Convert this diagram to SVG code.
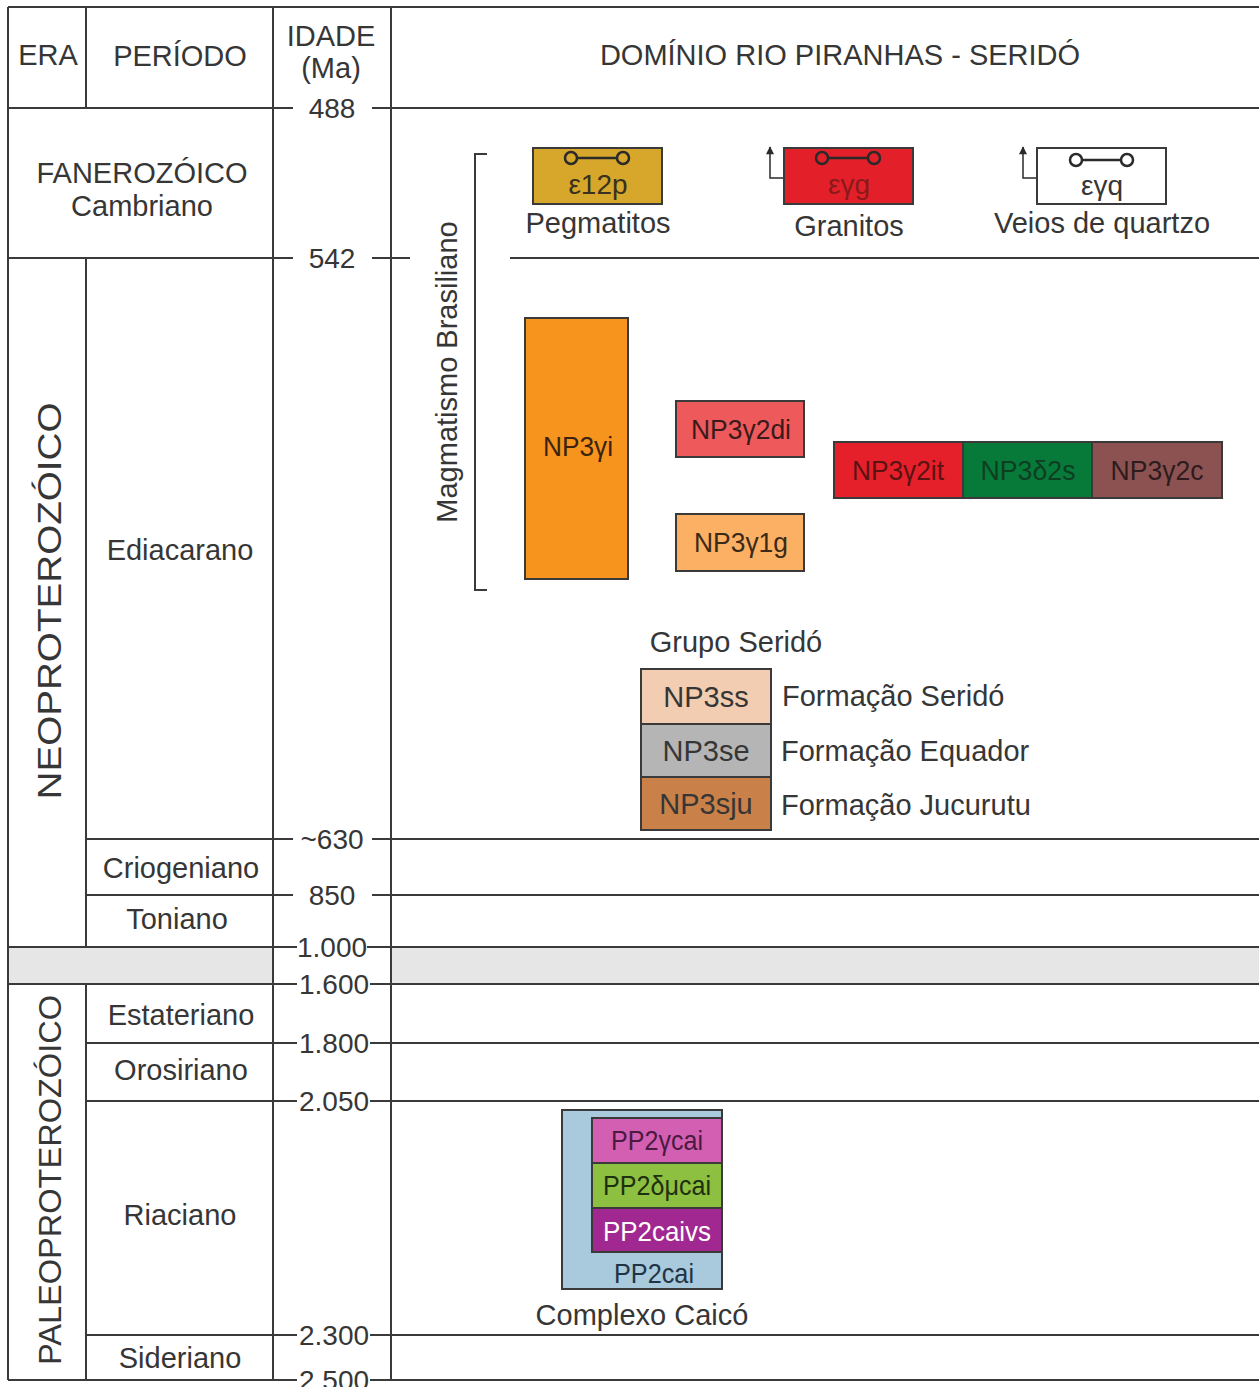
<svg xmlns="http://www.w3.org/2000/svg" width="1259" height="1387" viewBox="0 0 1259 1387">
  <style>
    text { font-family: "Liberation Sans", Arial, sans-serif; fill: #363636; }
    .lbl { font-size: 29px; }
    .age { font-size: 28px; text-anchor: middle; }
    .mid { text-anchor: middle; }
    .grid { stroke: #3a3a3a; stroke-width: 2; fill: none; }
    .box { stroke: #3a3a3a; stroke-width: 2; }
    .unit { font-size: 28px; text-anchor: middle; }
    .gk { font-family: "Liberation Serif", "Times New Roman", serif; }
    .sym { stroke: #2a2a2a; stroke-width: 2.5; }
  </style>
  <defs>
    <marker id="tip" viewBox="0 0 10 10" refX="9" refY="5" markerWidth="9" markerHeight="8" orient="auto" markerUnits="userSpaceOnUse">
      <path d="M0,0 L10,5 L0,10 Z" fill="#2a2a2a"/>
    </marker>
  </defs>

  <rect width="1259" height="1387" fill="#ffffff"/>

  <!-- gap between Neo- and Paleoproterozoic -->
  <g id="hiatus">
    <rect x="8" y="947" width="265" height="37" fill="#e6e6e6"/>
    <rect x="391" y="947" width="868" height="37" fill="#e6e6e6"/>
  </g>

  <!-- table frame and time boundaries -->
  <g id="grid" class="grid">
    <line x1="8" y1="7" x2="1259" y2="7"/>
    <line x1="8" y1="7" x2="8" y2="1380"/>
    <line x1="86" y1="7" x2="86" y2="108"/>
    <line x1="86" y1="258" x2="86" y2="947"/>
    <line x1="86" y1="984" x2="86" y2="1380"/>
    <line x1="273" y1="7" x2="273" y2="1380"/>
    <line x1="391" y1="7" x2="391" y2="1380"/>

    <!-- 488 -->
    <line x1="8" y1="108" x2="293" y2="108"/>
    <line x1="372" y1="108" x2="1259" y2="108"/>
    <!-- 542 -->
    <line x1="8" y1="258" x2="293" y2="258"/>
    <line x1="372" y1="258" x2="410" y2="258"/>
    <line x1="510" y1="258" x2="1259" y2="258"/>
    <!-- ~630 -->
    <line x1="86" y1="839" x2="293" y2="839"/>
    <line x1="372" y1="839" x2="1259" y2="839"/>
    <!-- 850 -->
    <line x1="86" y1="895" x2="293" y2="895"/>
    <line x1="372" y1="895" x2="1259" y2="895"/>
    <!-- 1.000 -->
    <line x1="8" y1="947" x2="297" y2="947"/>
    <line x1="367" y1="947" x2="1259" y2="947"/>
    <!-- 1.600 -->
    <line x1="8" y1="984" x2="297" y2="984"/>
    <line x1="370" y1="984" x2="1259" y2="984"/>
    <!-- 1.800 -->
    <line x1="86" y1="1043" x2="297" y2="1043"/>
    <line x1="370" y1="1043" x2="1259" y2="1043"/>
    <!-- 2.050 -->
    <line x1="86" y1="1101" x2="297" y2="1101"/>
    <line x1="370" y1="1101" x2="1259" y2="1101"/>
    <!-- 2.300 -->
    <line x1="86" y1="1335" x2="297" y2="1335"/>
    <line x1="370" y1="1335" x2="1259" y2="1335"/>
    <!-- 2.500 -->
    <line x1="8" y1="1380" x2="297" y2="1380"/>
    <line x1="370" y1="1380" x2="1259" y2="1380"/>
  </g>

  <!-- column headers -->
  <g id="headers" class="lbl">
    <text x="48" y="65" class="mid">ERA</text>
    <text x="180" y="66" class="mid">PERÍODO</text>
    <text x="331" y="46" class="mid">IDADE</text>
    <text x="331" y="78" class="mid">(Ma)</text>
    <text x="840" y="65" class="mid">DOMÍNIO RIO PIRANHAS - SERIDÓ</text>
  </g>

  <!-- eras -->
  <g id="eras" class="lbl">
    <text x="142" y="183" class="mid">FANEROZÓICO</text>
    <text x="142" y="216" class="mid">Cambriano</text>
    <text transform="translate(61,601) rotate(-90)" class="mid" style="font-size:33px" textLength="397" lengthAdjust="spacingAndGlyphs">NEOPROTEROZÓICO</text>
    <text transform="translate(61,1180) rotate(-90)" class="mid" style="font-size:32px" textLength="370" lengthAdjust="spacingAndGlyphs">PALEOPROTEROZÓICO</text>
  </g>

  <!-- periods -->
  <g id="periods" class="lbl">
    <text x="180" y="560" class="mid">Ediacarano</text>
    <text x="181" y="878" class="mid">Criogeniano</text>
    <text x="177" y="929" class="mid">Toniano</text>
    <text x="181" y="1025" class="mid">Estateriano</text>
    <text x="181" y="1080" class="mid">Orosiriano</text>
    <text x="180" y="1225" class="mid">Riaciano</text>
    <text x="180" y="1368" class="mid">Sideriano</text>
  </g>

  <!-- ages (Ma) -->
  <g id="ages">
    <text x="332" y="118" class="age">488</text>
    <text x="332" y="268" class="age">542</text>
    <text x="332" y="849" class="age">~630</text>
    <text x="332" y="905" class="age">850</text>
    <text x="332" y="957" class="age">1.000</text>
    <text x="334" y="994" class="age">1.600</text>
    <text x="334" y="1053" class="age">1.800</text>
    <text x="334" y="1111" class="age">2.050</text>
    <text x="334" y="1345" class="age">2.300</text>
    <text x="334" y="1390" class="age">2.500</text>
  </g>

  <!-- Brasiliano magmatism bracket -->
  <g id="magmatismo">
    <path d="M487,154 H475 V590 H487" class="grid"/>
    <text transform="translate(457,372) rotate(-90)" class="lbl mid">Magmatismo Brasiliano</text>
  </g>

  <!-- connectors: age-range arrows on the legend -->
  <g id="connectors" fill="none" stroke="#2a2a2a" stroke-width="1.5">
    <path d="M784,178 H770 V147" marker-end="url(#tip)"/>
    <path d="M1037,178 H1023 V147" marker-end="url(#tip)"/>
  </g>

  <!-- Cambrian legend units -->
  <g id="pegmatitos">
    <rect x="533" y="148" width="129" height="56" fill="#d6a72a" class="box"/>
    <circle cx="571" cy="158" r="6" fill="none" class="sym"/>
    <circle cx="623" cy="158" r="6" fill="none" class="sym"/>
    <line x1="577" y1="158" x2="617" y2="158" class="sym"/>
    <text x="598" y="194" class="unit" style="fill:#3a3020">ε12p</text>
    <text x="598" y="233" class="lbl mid">Pegmatitos</text>
  </g>
  <g id="granitos">
    <rect x="784" y="148" width="129" height="56" fill="#e3202a" class="box"/>
    <circle cx="822" cy="158" r="6" fill="none" class="sym"/>
    <circle cx="874" cy="158" r="6" fill="none" class="sym"/>
    <line x1="828" y1="158" x2="868" y2="158" class="sym"/>
    <text x="849" y="194" class="unit" style="fill:#8a1a1a">εγg</text>
    <text x="849" y="236" class="lbl mid">Granitos</text>
  </g>
  <g id="veios-quartzo">
    <rect x="1037" y="148" width="129" height="56" fill="#ffffff" class="box"/>
    <circle cx="1076" cy="160" r="6" fill="none" class="sym"/>
    <circle cx="1127" cy="160" r="6" fill="none" class="sym"/>
    <line x1="1082" y1="160" x2="1121" y2="160" class="sym"/>
    <text x="1102" y="195" class="unit">εγq</text>
    <text x="1102" y="233" class="lbl mid">Veios de quartzo</text>
  </g>

  <!-- Ediacaran granitoids -->
  <g id="np3gi">
    <rect x="525" y="318" width="103" height="261" fill="#f7941d" class="box"/>
    <text x="578" y="456" class="unit" style="fill:#3a2410" textLength="70" lengthAdjust="spacingAndGlyphs">NP3γi</text>
  </g>
  <g id="np3g2di">
    <rect x="676" y="401" width="128" height="56" fill="#ee5a5c" class="box"/>
    <text x="741" y="439" class="unit" style="fill:#3a1a1a" textLength="100" lengthAdjust="spacingAndGlyphs">NP3γ2di</text>
  </g>
  <g id="np3g1g">
    <rect x="676" y="514" width="128" height="57" fill="#fbb064" class="box"/>
    <text x="741" y="552" class="unit" style="fill:#3a2a18" textLength="94" lengthAdjust="spacingAndGlyphs">NP3γ1g</text>
  </g>
  <g id="np3g2it">
    <rect x="834" y="442" width="129" height="56" fill="#e6202a" class="box"/>
    <text x="898" y="480" class="unit" style="fill:#5a1212" textLength="92" lengthAdjust="spacingAndGlyphs">NP3γ2it</text>
  </g>
  <g id="np3d2s">
    <rect x="963" y="442" width="129" height="56" fill="#077a3a" class="box"/>
    <text x="1028" y="480" class="unit" style="fill:#0e3e22" textLength="95" lengthAdjust="spacingAndGlyphs">NP3δ2s</text>
  </g>
  <g id="np3g2c">
    <rect x="1092" y="442" width="130" height="56" fill="#8c5252" class="box"/>
    <text x="1157" y="480" class="unit" style="fill:#2e1c1c" textLength="93" lengthAdjust="spacingAndGlyphs">NP3γ2c</text>
  </g>

  <!-- Grupo Seridó -->
  <g id="grupo-serido">
    <text x="736" y="652" class="lbl mid">Grupo Seridó</text>
  </g>
  <g id="np3ss">
    <rect x="641" y="669" width="130" height="55" fill="#f2cdb2" class="box"/>
    <text x="706" y="707" class="lbl mid">NP3ss</text>
    <text x="782" y="706" class="lbl">Formação Seridó</text>
  </g>
  <g id="np3se">
    <rect x="641" y="724" width="130" height="53" fill="#b5b5b5" class="box"/>
    <text x="706" y="761" class="lbl mid">NP3se</text>
    <text x="781" y="761" class="lbl">Formação Equador</text>
  </g>
  <g id="np3sju">
    <rect x="641" y="777" width="130" height="53" fill="#c98049" class="box"/>
    <text x="706" y="814" class="lbl mid">NP3sju</text>
    <text x="781" y="815" class="lbl">Formação Jucurutu</text>
  </g>

  <!-- Complexo Caicó -->
  <g id="pp2cai">
    <rect x="562" y="1110" width="160" height="179" fill="#a9c9dc" class="box"/>
    <text x="654" y="1283" class="unit" style="fill:#1f3444" textLength="80" lengthAdjust="spacingAndGlyphs">PP2cai</text>
    <text x="642" y="1325" class="lbl mid">Complexo Caicó</text>
  </g>
  <g id="pp2gcai">
    <rect x="592" y="1118" width="130" height="45" fill="#d35fb2" class="box"/>
    <text x="657" y="1150" class="unit" style="fill:#4a1a40" textLength="92" lengthAdjust="spacingAndGlyphs">PP2γcai</text>
  </g>
  <g id="pp2dmcai">
    <rect x="592" y="1163" width="130" height="45" fill="#8dbf40" class="box"/>
    <text x="657" y="1195" class="unit" style="fill:#1e3010" textLength="108" lengthAdjust="spacingAndGlyphs">PP2δμcai</text>
  </g>
  <g id="pp2caivs">
    <rect x="592" y="1208" width="130" height="44" fill="#a12890" class="box"/>
    <text x="657" y="1241" class="unit" style="fill:#ffffff" textLength="108" lengthAdjust="spacingAndGlyphs">PP2caivs</text>
  </g>
</svg>
